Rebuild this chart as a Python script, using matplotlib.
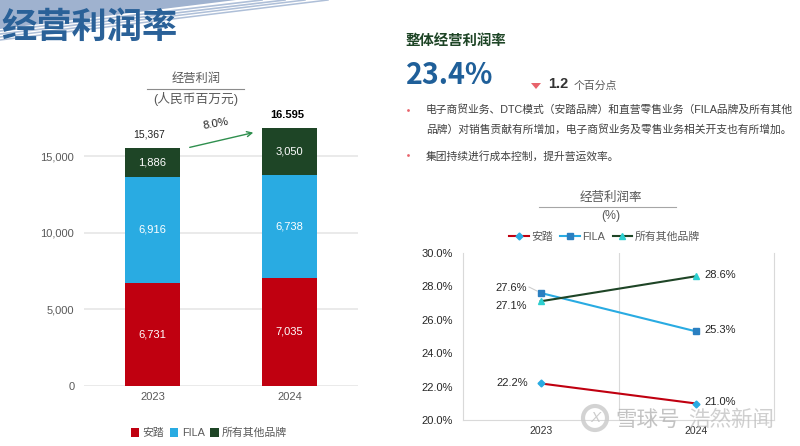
"""Operating margin slide: stacked bars on the left, brand margin lines on the right."""

import matplotlib

matplotlib.use("Agg")
import matplotlib.pyplot as plt
from matplotlib.patches import Circle, FancyArrowPatch, Polygon

plt.rcParams["font.family"] = ["Liberation Sans", "Noto Sans CJK SC", "DejaVu Sans"]

W, H = 800, 446

years = ["2023", "2024"]
anta_profit = [6731, 7035]
fila_profit = [6916, 6738]
other_profit = [1886, 3050]
total_labels = ["15,367", "16.595"]
profit_ticks = [0, 5000, 10000, 15000]

anta_margin = [22.2, 21.0]
fila_margin = [27.6, 25.3]
other_margin = [27.1, 28.6]
margin_ticks = [20, 22, 24, 26, 28, 30]

RED = "#c00010"
SKY = "#29abe2"
DARK = "#1e4526"
BLUE = "#1f5f99"
GREY = "#595959"


def axes_px(fig, left, top, right, bottom, **kw):
    return fig.add_axes([left / W, 1 - bottom / H, (right - left) / W, (bottom - top) / H], **kw)


fig = plt.figure(figsize=(W / 100, H / 100), dpi=100, facecolor="white")

# pixel overlay for slide decoration and loose text
bg = axes_px(fig, 0, 0, W, H)
bg.set_xlim(0, W)
bg.set_ylim(H, 0)
bg.axis("off")
bg.add_patch(Polygon([(0, 0), (236, 0), (0, 29)], closed=True, color="#9fb2cf", lw=0))
for x_end, y_start, lw in [(262, 31, 1.2), (285, 34, 1.2), (305, 37, 1.1), (328, 40, 1.1)]:
    bg.plot([0, x_end], [y_start, 0], color="#aebfd8", lw=lw)


def px_text(x, y, s, size=8, color=GREY, ha="center", weight="normal", **kw):
    bg.text(x, y, s, fontsize=size, color=color, ha=ha, va="center", fontweight=weight, **kw)


px_text(1, 28, "经营利润率", size=25.4, color="#2a6198", ha="left", weight="bold")

px_text(196, 79, "经营利润", size=8.8)
bg.plot([147, 244], [89, 89], color="#8c8c8c", lw=0.8)
px_text(196, 99, "(人民币百万元)", size=9.2)

px_text(406, 41, "整体经营利润率", size=10.4, color=DARK, ha="left", weight="bold")
bg.text(406, 75, "23.4%", fontsize=20.6, color=BLUE, ha="left", va="center", fontweight="bold", family=["Noto Sans CJK SC"])
bg.add_patch(Polygon([(531, 83), (541, 83), (536, 89)], closed=True, color="#e8636b", lw=0))
px_text(548, 84, "1.2", size=10.5, color="#333333", ha="left", weight="bold")
px_text(574, 86, "个百分点", size=7.8, color=GREY, ha="left")

for yb in [110, 155]:
    bg.plot([408], [yb], marker="o", ms=2, color="#e8636b", mew=0)
px_text(426, 110, "电子商贸业务、DTC模式（安踏品牌）和直营零售业务（FILA品牌及所有其他", size=7.78, color="#404040", ha="left")
px_text(426, 130, "品牌）对销售贡献有所增加，电子商贸业务及零售业务相关开支也有所增加。", size=7.78, color="#404040", ha="left")
px_text(426, 156, "集团持续进行成本控制，提升营运效率。", size=7.78, color="#404040", ha="left")

px_text(611, 198, "经营利润率", size=9)
bg.plot([539, 676], [207, 207], color="#a6a6a6", lw=0.8)
px_text(611, 216, "(%)", size=8.8)

# stacked bars
ax = axes_px(fig, 84, 117.3, 358, 385.5)
ax.patch.set_alpha(0)
x = [0, 1]
bottom_fila = anta_profit
bottom_other = [a + f for a, f in zip(anta_profit, fila_profit)]
ax.bar(x, anta_profit, width=0.4, color=RED, label="安踏", zorder=3)
ax.bar(x, fila_profit, width=0.4, bottom=bottom_fila, color=SKY, label="FILA", zorder=3)
ax.bar(x, other_profit, width=0.4, bottom=bottom_other, color=DARK, label="所有其他品牌", zorder=3)
for i in x:
    ax.text(i, anta_profit[i] / 2, f"{anta_profit[i]:,}", color="white", fontsize=8, ha="center", va="center", zorder=4)
    ax.text(i, bottom_fila[i] + fila_profit[i] / 2, f"{fila_profit[i]:,}", color="white", fontsize=8, ha="center", va="center", zorder=4)
    ax.text(i, bottom_other[i] + other_profit[i] / 2, f"{other_profit[i]:,}", color="white", fontsize=8, ha="center", va="center", zorder=4)
ax.set_xlim(-0.5, 1.5)
ax.set_ylim(0, 17530)
ax.set_xticks(x, years, fontsize=8, color=GREY)
ax.set_yticks(profit_ticks, [f"{t:,}" for t in profit_ticks], fontsize=8, color=GREY)
ax.tick_params(axis="x", length=0, pad=5)
ax.tick_params(axis="y", length=0, pad=7)
ax.grid(axis="y", color="#e6e6e6", lw=1.2, zorder=0)
for s in ax.spines.values():
    s.set_visible(False)
ax.legend(loc="center", bbox_to_anchor=(0.456, -0.177), ncol=3, frameon=False, fontsize=7.8,
          labelcolor=GREY, handlelength=0.8, handleheight=0.8, handletextpad=0.3, columnspacing=0.5)

px_text(149, 134.5, total_labels[0], size=7.5, color="#222222")
px_text(287, 115.5, total_labels[1], size=8, color="black", weight="bold")
px_text(216, 124, "8.0%", size=8.2, color="#222222", rotation=10)
bg.add_patch(FancyArrowPatch((187, 148), (256, 132), arrowstyle="->", mutation_scale=9, color="#2f8f4e", lw=1, zorder=5))

# margin lines
lx = axes_px(fig, 462.7, 252.7, 774.3, 420.3)
lx.patch.set_alpha(0)
lx.plot(x, anta_margin, color=RED, lw=1.5, marker="D", ms=3.5, mfc=SKY, mec=SKY, label="安踏", zorder=3)
lx.plot(x, fila_margin, color=SKY, lw=1.5, marker="s", ms=5, mfc="#2a7fc1", mec="#2a7fc1", label="FILA", zorder=3)
lx.plot(x, other_margin, color=DARK, lw=1.5, marker="^", ms=5, mfc="#2ccfd0", mec="#2ccfd0", label="所有其他品牌", zorder=3)
lx.set_xlim(-0.5, 1.5)
lx.set_ylim(20, 30)
lx.set_xticks(x, years, fontsize=7.5, color="#333333")
lx.set_yticks(margin_ticks, [f"{t:.1f}%" for t in margin_ticks], fontsize=8, color="#262626")
lx.tick_params(length=0)
lx.tick_params(axis="x", pad=4)
lx.tick_params(axis="y", pad=7)
lx.axvline(0.5, color="#d9d9d9", lw=0.8, zorder=0)
lx.spines["top"].set_visible(False)
for name in ["left", "right", "bottom"]:
    lx.spines[name].set_color("#d9d9d9")
    lx.spines[name].set_linewidth(0.8)
lx.legend(loc="center", bbox_to_anchor=(0.455, 1.094), ncol=3, frameon=False, fontsize=7.8, labelcolor=GREY,
          handlelength=1.8, handletextpad=0.2, columnspacing=0.7)

for vals, dx, dy in [(anta_margin, -9, 0), (fila_margin, -10, 3.6), (other_margin, -10, -3.6)]:
    lx.annotate(f"{vals[0]:.1f}%", (0, vals[0]), xytext=(dx, dy), textcoords="offset points",
                ha="right", va="center", fontsize=8, color="#262626", zorder=5)
    lx.annotate(f"{vals[1]:.1f}%", (1, vals[1]), xytext=(6, 1), textcoords="offset points",
                ha="left", va="center", fontsize=8, color="#262626", zorder=5)
bg.plot([529, 537], [287, 291], color="#c8c8c8", lw=0.7)

# faint watermark over the corner
bg2 = axes_px(fig, 0, 0, W, H)
bg2.set_xlim(0, W)
bg2.set_ylim(H, 0)
bg2.axis("off")
bg2.patch.set_alpha(0)
bg2.add_patch(Circle((595, 418), 12, fill=False, ec="#cccccc", lw=3, alpha=0.85))
bg2.text(595, 418, "X", fontsize=11, color="#c4c4c4", ha="center", va="center", fontstyle="italic", alpha=0.85)
bg2.text(615, 420, "雪球号", fontsize=15.5, color="#b5b5b5", alpha=0.8, va="center")
bg2.text(688, 420, "浩然新闻", fontsize=15.5, color="#c0c0c0", alpha=0.75, va="center")

fig.savefig("out.png", dpi=100)
plt.close(fig)
